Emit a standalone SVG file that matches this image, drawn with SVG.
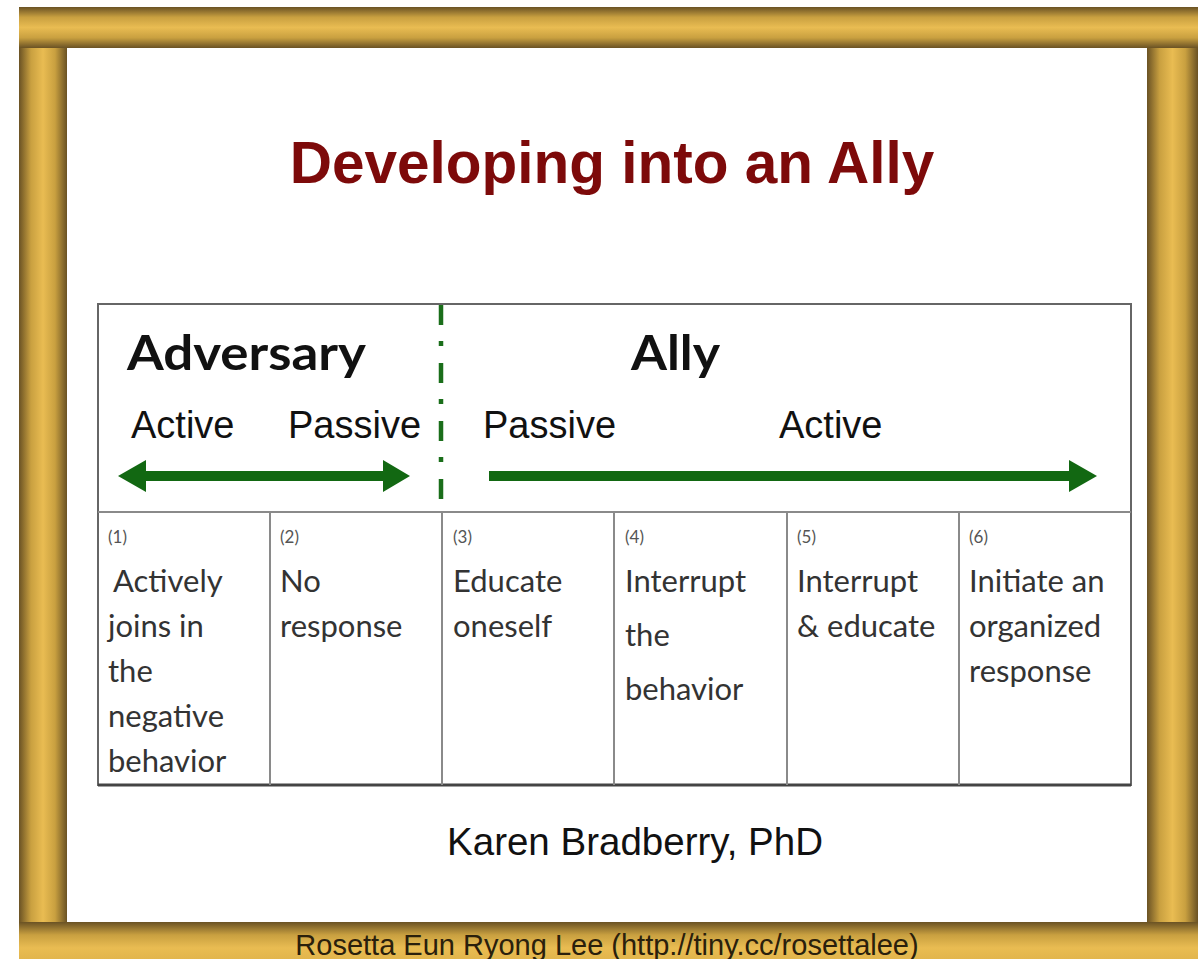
<svg xmlns="http://www.w3.org/2000/svg" width="1198" height="959" viewBox="0 0 1198 959">
<defs>
<linearGradient id="gv" x1="0" y1="0" x2="0" y2="1">
<stop offset="0" stop-color="#6a5224"/>
<stop offset="0.25" stop-color="#c9a040"/>
<stop offset="0.5" stop-color="#e9bc52"/>
<stop offset="0.75" stop-color="#c9a040"/>
<stop offset="1" stop-color="#6a5224"/>
</linearGradient>
<linearGradient id="gh" x1="0" y1="0" x2="1" y2="0">
<stop offset="0" stop-color="#6a5224"/>
<stop offset="0.25" stop-color="#c9a040"/>
<stop offset="0.5" stop-color="#e9bc52"/>
<stop offset="0.75" stop-color="#c9a040"/>
<stop offset="1" stop-color="#6a5224"/>
</linearGradient>
<linearGradient id="gb" x1="0" y1="0" x2="0" y2="1">
<stop offset="0" stop-color="#6a5224"/>
<stop offset="0.35" stop-color="#c9a040"/>
<stop offset="0.7" stop-color="#e9bc52"/>
<stop offset="1" stop-color="#e2b54c"/>
</linearGradient>
<style>
.sans{font-family:"Liberation Sans",Arial,sans-serif;}
.cal{font-family:Lato,"Open Sans",sans-serif;fill:#333;}
.num{font-size:17px;fill:#555;}
.cell{font-size:31px;}
.head{font-family:Lato,"Open Sans",sans-serif;font-weight:bold;fill:#111;font-size:48px;}
.lbl{font-size:38px;fill:#111;}
.grid{stroke:#8a8a8a;stroke-width:2;fill:none;}
.arrow{fill:#126812;}
</style>
</defs>
<rect width="1198" height="959" fill="#fff"/>
<g id="frame">
<rect x="67" y="48" width="1080" height="875" fill="#fff"/>
<rect x="19" y="48" width="48" height="875" fill="url(#gh)"/>
<rect x="1147" y="48" width="51" height="875" fill="url(#gh)"/>
<rect x="19" y="7" width="1179" height="41" fill="url(#gv)"/>
<rect x="19" y="922" width="1179" height="37" fill="url(#gb)"/>
</g>
<g id="title">
<text x="612" y="183" text-anchor="middle" class="sans" font-weight="bold" font-size="58.5" fill="#7d0a0a">Developing into an Ally</text>
</g>
<g id="table">
<rect x="98" y="304" width="1033" height="481" fill="#fff" stroke="#666" stroke-width="2"/>
<line x1="98" y1="785" x2="1131" y2="785" stroke="#444" stroke-width="3"/>
<line class="grid" x1="98" y1="512" x2="1131" y2="512"/>
<line class="grid" x1="270" y1="512" x2="270" y2="785"/>
<line class="grid" x1="442" y1="512" x2="442" y2="785"/>
<line class="grid" x1="614" y1="512" x2="614" y2="785"/>
<line class="grid" x1="787" y1="512" x2="787" y2="785"/>
<line class="grid" x1="959" y1="512" x2="959" y2="785"/>
</g>
<g id="header-adversary">
<text x="127" y="370" class="head" textLength="239" lengthAdjust="spacingAndGlyphs">Adversary</text>
<text x="131" y="438" class="sans lbl">Active</text>
<text x="288" y="438" class="sans lbl">Passive</text>
</g>
<g id="header-ally">
<text x="631" y="370" class="head" textLength="89" lengthAdjust="spacingAndGlyphs">Ally</text>
<text x="483" y="438" class="sans lbl">Passive</text>
<text x="779" y="438" class="sans lbl">Active</text>
</g>
<g id="connectors">
<line x1="441" y1="305" x2="441" y2="503" stroke="#1a6e1a" stroke-width="4.5" stroke-dasharray="20 16 5 17"/>
<polygon class="arrow" points="118,476 146,460 146,471 383,471 383,460 410,476 383,492 383,481 146,481 146,492"/>
<polygon class="arrow" points="489,471 1069,471 1069,460 1097,476 1069,492 1069,481 489,481"/>
</g>
<g id="cell1" class="cal">
<text x="108" y="543" class="num">(1)</text>
<text x="113" y="592" class="cell">Actively</text>
<text x="108" y="637" class="cell">joins in</text>
<text x="108" y="682" class="cell">the</text>
<text x="108" y="727" class="cell">negative</text>
<text x="108" y="772" class="cell">behavior</text>
</g>
<g id="cell2" class="cal">
<text x="280" y="543" class="num">(2)</text>
<text x="280" y="592" class="cell">No</text>
<text x="280" y="637" class="cell">response</text>
</g>
<g id="cell3" class="cal">
<text x="453" y="543" class="num">(3)</text>
<text x="453" y="592" class="cell">Educate</text>
<text x="453" y="637" class="cell">oneself</text>
</g>
<g id="cell4" class="cal">
<text x="625" y="543" class="num">(4)</text>
<text x="625" y="592" class="cell">Interrupt</text>
<text x="625" y="646" class="cell">the</text>
<text x="625" y="700" class="cell">behavior</text>
</g>
<g id="cell5" class="cal">
<text x="797" y="543" class="num">(5)</text>
<text x="797" y="592" class="cell">Interrupt</text>
<text x="797" y="637" class="cell">&amp; educate</text>
</g>
<g id="cell6" class="cal">
<text x="969" y="543" class="num">(6)</text>
<text x="969" y="592" class="cell">Initiate an</text>
<text x="969" y="637" class="cell">organized</text>
<text x="969" y="682" class="cell">response</text>
</g>
<g id="credit">
<text x="635" y="855" text-anchor="middle" class="sans" font-size="38.5" fill="#111">Karen Bradberry, PhD</text>
</g>
<g id="footer">
<text x="607" y="955" text-anchor="middle" class="sans" font-size="29" fill="#2a200c">Rosetta Eun Ryong Lee (http://tiny.cc/rosettalee)</text>
</g>
</svg>
